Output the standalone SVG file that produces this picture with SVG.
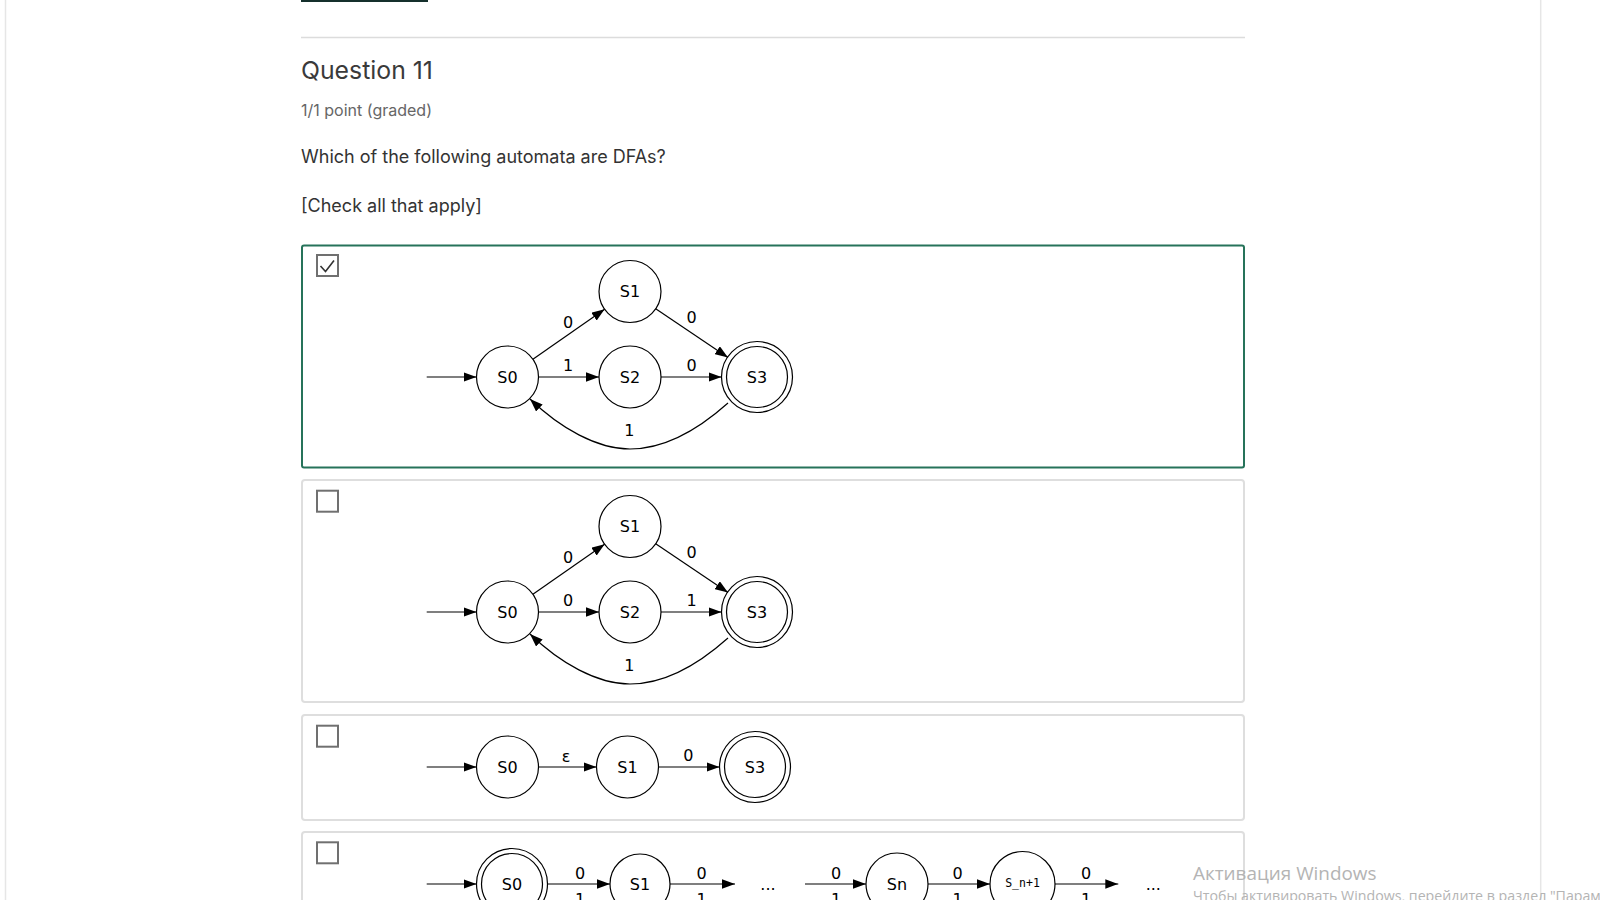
<svg xmlns="http://www.w3.org/2000/svg" width="1600" height="900" viewBox="0 0 1600 900">
<style>
.ui{font-family:Inter,"Liberation Sans",sans-serif;}
.h{font-size:24.8px;fill:#3a3a3a;}
.sub{font-size:16px;fill:#666;}
.body{font-size:18px;fill:#333;}
.st{fill:none;stroke:#000;stroke-width:1.2;}
.lbl{font-family:"DejaVu Sans",sans-serif;font-size:16px;fill:#000;text-anchor:middle;}
.mono{font-family:"DejaVu Sans Mono",monospace;font-size:11.5px;fill:#000;text-anchor:middle;}
.edge{fill:none;stroke:#000;stroke-width:1.2;marker-end:url(#ah);}
.cb{fill:#fff;stroke:#707070;stroke-width:2;}
.card{fill:#fff;stroke:#dedede;stroke-width:2;}
.wm{font-family:"Open Sans","Noto Sans",sans-serif;fill:#b4b4b4;}
</style>
<defs>
<marker id="ah" viewBox="0 0 13 9.5" refX="13" refY="4.75" markerWidth="13" markerHeight="9.5" markerUnits="userSpaceOnUse" orient="auto">
<path d="M0,0 L13,4.75 L0,9.5 z" fill="#000"/>
</marker>
</defs>
<rect x="0" y="0" width="1600" height="900" fill="#fff"/>
<line x1="5.5" y1="0" x2="5.5" y2="900" stroke="#e6e6e6" stroke-width="1.5"/>
<line x1="1540.7" y1="0" x2="1540.7" y2="900" stroke="#e6e6e6" stroke-width="1.5"/>
<rect x="301" y="0" width="127" height="2" fill="#15302c"/>
<line x1="301" y1="37.5" x2="1245" y2="37.5" stroke="#dcdcdc" stroke-width="1.5"/>
<text class="ui h" x="301" y="79.3">Question 11</text>
<text class="ui sub" x="301" y="116">1/1 point (graded)</text>
<text class="ui body" x="301" y="162.7">Which of the following automata are DFAs?</text>
<text class="ui body" x="301" y="211.5">[Check all that apply]</text>

<!-- cards -->
<g id="card1">
<rect x="302" y="245.5" width="942" height="222" rx="2" fill="#fff" stroke="#26735a" stroke-width="2"/>
<rect class="cb" x="317" y="255" width="21" height="21"/>
<polyline points="320.5,266 325.5,271.5 334,260.5" fill="none" stroke="#333" stroke-width="1.6"/>
</g>
<g id="card2">
<rect class="card" x="302" y="480" width="942" height="222" rx="3"/>
<rect class="cb" x="317" y="490.7" width="21" height="21"/>
</g>
<g id="card3">
<rect class="card" x="302" y="715" width="942" height="105" rx="3"/>
<rect class="cb" x="317" y="725.7" width="21" height="21"/>
</g>
<g id="card4">
<rect class="card" x="302" y="832" width="942" height="100" rx="3"/>
<rect class="cb" x="317" y="842.3" width="21" height="21"/>
</g>

<!-- Graph 1 -->
<g id="g1-S0"><circle class="st" cx="507.5" cy="377" r="31"/><text class="lbl" x="507.5" y="382.8">S0</text></g>
<g id="g1-S1"><circle class="st" cx="630" cy="291.5" r="31"/><text class="lbl" x="630" y="297.3">S1</text></g>
<g id="g1-S2"><circle class="st" cx="630" cy="377" r="31"/><text class="lbl" x="630" y="382.8">S2</text></g>
<g id="g1-S3"><circle class="st" cx="757" cy="377" r="35.5"/><circle class="st" cx="757" cy="377" r="30.5"/><text class="lbl" x="757" y="382.8">S3</text></g>
<g id="g1-edges">
<path class="edge" d="M426.7,377 H476.5"/>
<path class="edge" d="M532.9,359.3 L604.6,309.2"/>
<path class="edge" d="M538.5,377 H599"/>
<path class="edge" d="M655.7,308.8 L728,357.5"/>
<path class="edge" d="M661,377 H721.5"/>
<path class="edge" d="M728,403 C700,428 665,449 630,449 C597,449 560,428 530,399"/>
<text class="lbl" x="568" y="327.8">0</text>
<text class="lbl" x="568" y="370.8">1</text>
<text class="lbl" x="691.7" y="322.8">0</text>
<text class="lbl" x="691.7" y="370.8">0</text>
<text class="lbl" x="629.3" y="435.8">1</text>
</g>

<!-- Graph 2 -->
<g transform="translate(0,235)">
<g id="g2-S0"><circle class="st" cx="507.5" cy="377" r="31"/><text class="lbl" x="507.5" y="382.8">S0</text></g>
<g id="g2-S1"><circle class="st" cx="630" cy="291.5" r="31"/><text class="lbl" x="630" y="297.3">S1</text></g>
<g id="g2-S2"><circle class="st" cx="630" cy="377" r="31"/><text class="lbl" x="630" y="382.8">S2</text></g>
<g id="g2-S3"><circle class="st" cx="757" cy="377" r="35.5"/><circle class="st" cx="757" cy="377" r="30.5"/><text class="lbl" x="757" y="382.8">S3</text></g>
<g id="g2-edges">
<path class="edge" d="M426.7,377 H476.5"/>
<path class="edge" d="M532.9,359.3 L604.6,309.2"/>
<path class="edge" d="M538.5,377 H599"/>
<path class="edge" d="M655.7,308.8 L728,357.5"/>
<path class="edge" d="M661,377 H721.5"/>
<path class="edge" d="M728,403 C700,428 665,449 630,449 C597,449 560,428 530,399"/>
<text class="lbl" x="568" y="327.8">0</text>
<text class="lbl" x="568" y="370.8">0</text>
<text class="lbl" x="691.7" y="322.8">0</text>
<text class="lbl" x="691.7" y="370.8">1</text>
<text class="lbl" x="629.3" y="435.8">1</text>
</g>
</g>

<!-- Graph 3 -->
<g id="g3-S0"><circle class="st" cx="507.5" cy="767" r="31"/><text class="lbl" x="507.5" y="772.8">S0</text></g>
<g id="g3-S1"><circle class="st" cx="627.5" cy="767" r="31"/><text class="lbl" x="627.5" y="772.8">S1</text></g>
<g id="g3-S3"><circle class="st" cx="755" cy="767" r="35.5"/><circle class="st" cx="755" cy="767" r="30.5"/><text class="lbl" x="755" y="772.8">S3</text></g>
<g id="g3-edges">
<path class="edge" d="M426.7,767 H476.5"/>
<path class="edge" d="M538.5,767 H596.5"/>
<path class="edge" d="M658.5,767 H719.5"/>
<text class="lbl" x="566" y="761.5">ε</text>
<text class="lbl" x="688.3" y="760.8">0</text>
</g>

<!-- Graph 4 -->
<g id="g4-S0"><circle class="st" cx="512" cy="884" r="35.5"/><circle class="st" cx="512" cy="884" r="30.5"/><text class="lbl" x="512" y="889.8">S0</text></g>
<g id="g4-S1"><circle class="st" cx="640" cy="884" r="30"/><text class="lbl" x="640" y="889.8">S1</text></g>
<g id="g4-Sn"><circle class="st" cx="897" cy="884" r="31"/><text class="lbl" x="897" y="889.8">Sn</text></g>
<g id="g4-Sn1"><circle class="st" cx="1022.5" cy="884" r="32.5"/><text class="mono" x="1022.5" y="887">S_n+1</text></g>
<g id="g4-edges">
<path class="edge" d="M426.7,884 H476.5"/>
<path class="edge" d="M547.5,884 H610"/>
<path class="edge" d="M670,884 H735"/>
<path class="edge" d="M805,884 H866"/>
<path class="edge" d="M928,884 H990"/>
<path class="edge" d="M1055,884 H1118.3"/>
<text class="lbl" x="580" y="879">0</text>
<text class="lbl" x="580" y="905">1</text>
<text class="lbl" x="701.7" y="879">0</text>
<text class="lbl" x="701.7" y="905">1</text>
<text class="lbl" x="768" y="889.8">...</text>
<text class="lbl" x="836" y="879">0</text>
<text class="lbl" x="836" y="905">1</text>
<text class="lbl" x="957.7" y="879">0</text>
<text class="lbl" x="957.7" y="905">1</text>
<text class="lbl" x="1086" y="879">0</text>
<text class="lbl" x="1086" y="905">1</text>
<text class="lbl" x="1153.3" y="889.8">...</text>
</g>

<text class="wm" x="1193" y="880" font-size="18.9">Активация Windows</text>
<text class="wm" x="1193" y="900.5" font-size="14.2">Чтобы активировать Windows, перейдите в раздел "Параметры".</text>
</svg>
